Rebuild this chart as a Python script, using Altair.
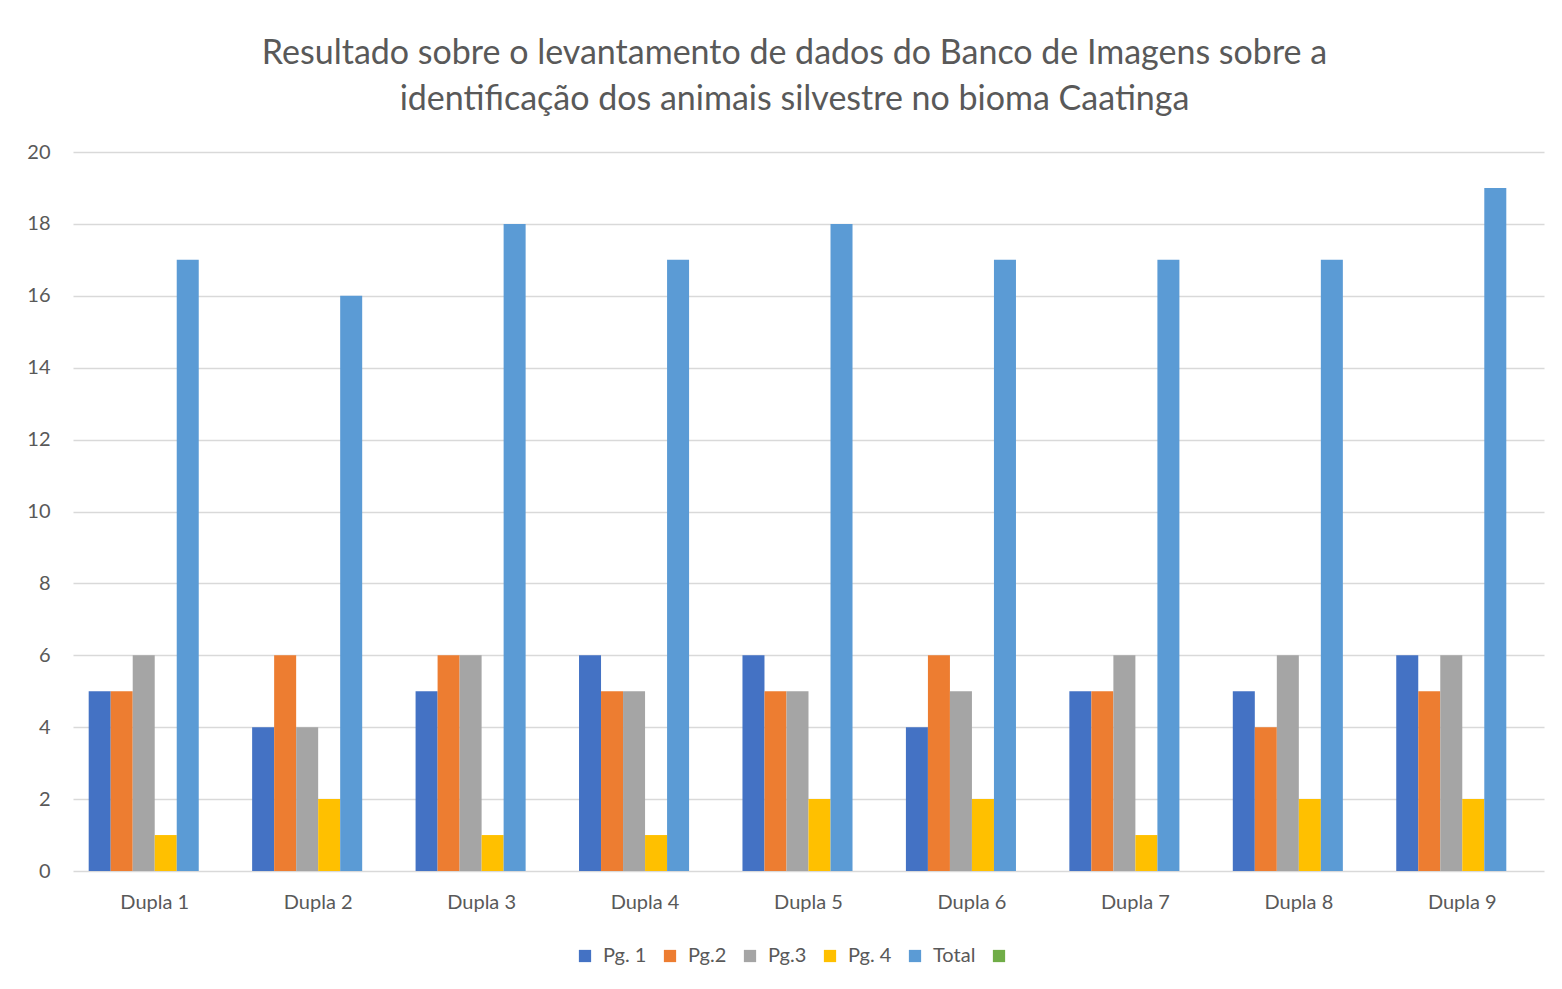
import altair as alt
import pandas as pd

duplas = ["Dupla 1", "Dupla 2", "Dupla 3", "Dupla 4", "Dupla 5", "Dupla 6", "Dupla 7", "Dupla 8", "Dupla 9"]
series = ["Pg. 1", "Pg.2", "Pg.3", "Pg. 4", "Total", "_"]
colors = ["#4472C4", "#ED7D31", "#A5A5A5", "#FFC000", "#5B9BD5", "#70AD47"]

pg1 = [5, 4, 5, 6, 6, 4, 5, 5, 6]
pg2 = [5, 6, 6, 5, 5, 6, 5, 4, 5]
pg3 = [6, 4, 6, 5, 5, 5, 6, 6, 6]
pg4 = [1, 2, 1, 1, 2, 2, 1, 2, 2]
total = [17, 16, 18, 17, 18, 17, 17, 17, 19]

rows = []
for name, vals in zip(series[:5], [pg1, pg2, pg3, pg4, total]):
    for d, v in zip(duplas, vals):
        rows.append({"Dupla": d, "Serie": name, "Valor": v})
df = pd.DataFrame(rows)

FONT = "Lato"
GREY = "#595959"

chart = alt.Chart(df).mark_bar().encode(
    x=alt.X("Dupla:N", sort=duplas, title=None,
            scale=alt.Scale(paddingInner=0.192, paddingOuter=0.096),
            axis=alt.Axis(labelAngle=0, labelFontSize=20, labelColor=GREY, labelFont=FONT,
                          domain=False, ticks=False, labelPadding=21)),
    xOffset=alt.XOffset("Serie:N", scale=alt.Scale(domain=series)),
    y=alt.Y("Valor:Q", title=None,
            scale=alt.Scale(domain=[0, 20]),
            axis=alt.Axis(values=list(range(0, 21, 2)), labelFontSize=20, labelColor=GREY,
                          labelFont=FONT, domain=False, ticks=False, labelPadding=23,
                          gridColor="#d9d9d9", gridWidth=1.5)),
    color=alt.Color("Serie:N", scale=alt.Scale(domain=series, range=colors),
                    legend=alt.Legend(orient="none", legendX=502, legendY=794,
                                      direction="horizontal", title=None,
                                      symbolType="square", symbolSize=150, symbolStrokeWidth=0,
                                      labelFontSize=20, labelColor=GREY, labelFont=FONT,
                                      columnPadding=13, labelOffset=8,
                                      labelExpr="datum.label == '_' ? '' : datum.label")),
).properties(
    width=1471,
    height=719,
    padding={"left": 18, "top": 29, "right": 5, "bottom": 5},
    title=alt.Title(
        ["Resultado sobre o levantamento de dados do Banco de Imagens sobre a",
         "identificação dos animais silvestre no bioma Caatinga"],
        fontSize=34, font=FONT, fontWeight="normal", color=GREY, lineHeight=46, offset=25,
        anchor="middle", dx=-14),
).configure_view(stroke=None)

chart.save("out.html", embed_options={"renderer": "svg", "actions": False})
